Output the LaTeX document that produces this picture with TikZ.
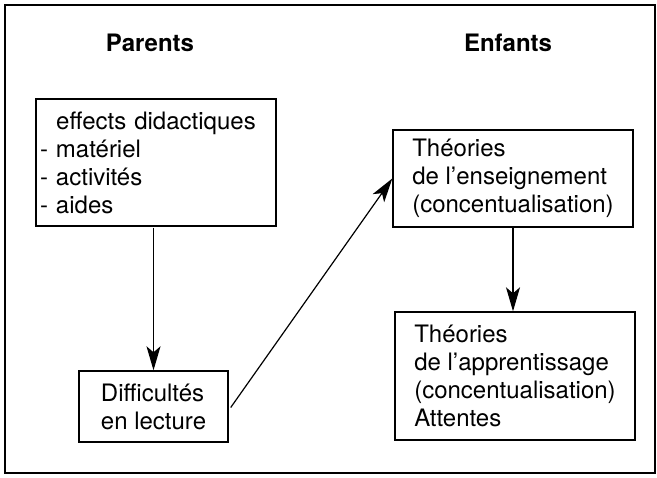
\documentclass[tikz,border=0pt]{standalone}
\usepackage{fontspec}
\setmainfont{TeX Gyre Heros}
\usetikzlibrary{arrows.meta}

\begin{document}
\begin{tikzpicture}[x=0.5pt,y=0.5pt,
    font=\fontsize{12}{14}\selectfont,
    boite/.style={draw,line width=0.7pt,inner sep=2pt,align=left},
    fleche/.style={line width=0.6pt,-{Stealth[length=12pt,width=7pt,inset=3pt]}}]
    %
    % Independent parameters
    \def\boxW{120pt}                                % width of the wide boxes
    \def\titleY{434}                                % height of the titles
    %
    % frame
    \useasboundingbox (0,0) rectangle (657,477);
    \draw[line width=0.7pt] (5,4) rectangle (655,472);
    %
    % titles
    \node[font=\fontsize{12}{14}\selectfont\bfseries] (parents) at (150,\titleY) {Parents};
    \node[font=\fontsize{12}{14}\selectfont\bfseries] (enfants) at (508,\titleY) {Enfants};
    %
    % boxes
    \node[boite,minimum width=\boxW,minimum height=63.5pt,text width=116pt]
        (effets) at (156,314.5)
        {\makebox[\hsize]{effects didactiques}\\- matériel\\- activités\\- aides};
    \node[boite,minimum width=74.5pt,minimum height=35.5pt]
        (difficultes) at (153.5,70.5)
        {Difficultés\\en lecture};
    \node[boite,minimum width=\boxW,minimum height=48.5pt]
        (enseignement) at (513,298.5)
        {Théories\\de l’enseignement\\(concentualisation)};
    \node[boite,minimum width=\boxW,minimum height=64pt]
        (apprentissage) at (515,101)
        {Théories\\de l’apprentissage\\(concentualisation)\\Attentes};
    %
    % arrows
    \draw[fleche] (difficultes.north |- effets.south) ++(0,-1) -- (difficultes.north);
    \draw[fleche] (difficultes.east) ++(2,-1) -- (enseignement.west);
    \draw[fleche] (enseignement.south) -- (enseignement.south |- apprentissage.north);
\end{tikzpicture}
\end{document}
